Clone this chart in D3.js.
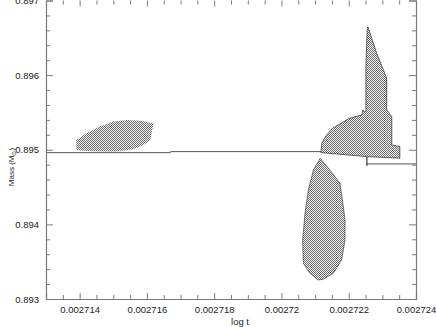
<!DOCTYPE html>
<html>
<head>
  <meta charset="utf-8">
  <title>Mass vs log t</title>
  <script src="https://d3js.org/d3.v7.min.js"></script>
  <style type="text/css">
    body { margin: 0; background: #fff; }
    svg { display: block; font-family: "Liberation Sans", Arial, sans-serif; }
    .axis path, .axis line { stroke: #7a7a7a; }
    .axis text { fill: #222; font-size: 9.5px; }
  </style>
</head>
<body>
<div id="chart"></div>
<script type="text/javascript">
  // tick labels
  const xTicks = [0.002714, 0.002716, 0.002718, 0.00272, 0.002722, 0.002724];
  const xTickLabels = ['0.002714', '0.002716', '0.002718', '0.00272', '0.002722', '0.002724'];
  const yTicks = [0.893, 0.894, 0.895, 0.896, 0.897];
  const yTickLabels = ['0.893', '0.894', '0.895', '0.896', '0.897'];

  // shaded regions, [log t, mass]
  const blobLeft = [
    [0.0027139, 0.894997], [0.0027139, 0.895131], [0.0027142, 0.895221], [0.0027146, 0.895310],
    [0.0027150, 0.895377], [0.0027154, 0.895399], [0.0027158, 0.895390], [0.0027162, 0.895355],
    [0.0027161, 0.895131], [0.0027159, 0.895064], [0.0027156, 0.895007], [0.0027151, 0.894975],
    [0.0027146, 0.894975], [0.0027142, 0.894984]
  ];
  const blobUpper = [
    [0.00272117, 0.894961], [0.0027212, 0.895087], [0.00272134, 0.895198], [0.00272153, 0.895292],
    [0.00272179, 0.895359], [0.00272198, 0.895413], [0.00272219, 0.895444], [0.00272239, 0.895466],
    [0.00272242, 0.895534], [0.00272247, 0.895507], [0.00272251, 0.895511], [0.00272251, 0.896114],
    [0.00272255, 0.896629], [0.00272257, 0.896650], [0.00272283, 0.896294], [0.00272313, 0.895958],
    [0.00272313, 0.895534], [0.00272328, 0.895444], [0.00272328, 0.895064], [0.00272352, 0.895042],
    [0.00272352, 0.894886], [0.00272253, 0.894908]
  ];
  const blobLower = [
    [0.00272115, 0.894886], [0.00272144, 0.894729], [0.00272174, 0.894551], [0.00272184, 0.894237],
    [0.00272189, 0.894059], [0.00272189, 0.893791], [0.00272179, 0.893523], [0.00272154, 0.893344],
    [0.00272124, 0.893264], [0.00272109, 0.893255], [0.00272085, 0.893344], [0.00272065, 0.893479],
    [0.00272063, 0.893791], [0.0027207, 0.894149], [0.0027208, 0.894461], [0.00272095, 0.894729]
  ];

  // track lines
  const trackLeft = [
    [0.002713, 0.894961], [0.0027167, 0.894961], [0.0027167, 0.894975], [0.00272117, 0.894975]
  ];
  const trackRight = [
    [0.00272254, 0.894903], [0.00272254, 0.894783]
  ];
  const trackEnd = [
    [0.00272254, 0.89481], [0.002724, 0.89481]
  ];

  const width = 436, height = 327;
  const x = d3.scaleLinear().domain([0.002713, 0.002724]).range([46, 416]);
  const y = d3.scaleLinear().domain([0.893, 0.897]).range([299, 0.5]);

  const svg = d3.select('#chart').append('svg')
    .attr('width', width)
    .attr('height', height);

  // checker pattern for shaded areas
  const pat = svg.append('defs').append('pattern')
    .attr('id', 'checker')
    .attr('patternUnits', 'userSpaceOnUse')
    .attr('width', 2).attr('height', 2);
  pat.append('rect').attr('width', 2).attr('height', 2).attr('fill', '#f4f4f4')
    .attr('shape-rendering', 'crispEdges');
  pat.append('rect').attr('width', 1).attr('height', 1).attr('fill', '#6a6a6a')
    .attr('shape-rendering', 'crispEdges');
  pat.append('rect').attr('x', 1).attr('y', 1).attr('width', 1).attr('height', 1).attr('fill', '#6a6a6a')
    .attr('shape-rendering', 'crispEdges');

  const line = d3.line().x(d => x(d[0])).y(d => y(d[1]));

  svg.append('path').attr('d', line(blobLeft) + 'Z')
    .attr('fill', 'url(#checker)').attr('stroke', 'none');
  svg.append('path').attr('d', line(blobUpper) + 'Z')
    .attr('fill', 'url(#checker)').attr('stroke', '#111').attr('stroke-width', 0.6);
  svg.append('path').attr('d', line(blobLower) + 'Z')
    .attr('fill', 'url(#checker)').attr('stroke', '#111').attr('stroke-width', 0.5);

  [trackLeft, trackEnd].forEach(t => {
    svg.append('path').attr('d', line(t))
      .attr('fill', 'none').attr('stroke', '#555').attr('stroke-width', 1);
  });
  svg.append('path').attr('d', line(trackRight))
    .attr('fill', 'none').attr('stroke', '#111').attr('stroke-width', 1);

  // axes, ticks pointing inwards
  const xMinor = d3.range(0.0027135, 0.0027241, 0.0000005).filter(v => !xTicks.some(t => Math.abs(t - v) < 1e-10));
  const yMinor = d3.range(0.8932, 0.8970, 0.0002).filter(v => !yTicks.some(t => Math.abs(t - v) < 1e-9));

  const axBottom = svg.append('g').attr('class', 'axis')
    .attr('transform', `translate(0,${y(0.893)})`)
    .call(d3.axisBottom(x).tickValues(xTicks).tickSize(-6).tickPadding(7)
      .tickFormat((d, i) => xTickLabels[i]));
  axBottom.append('g').call(d3.axisBottom(x).tickValues(xMinor).tickSize(-4).tickFormat(''))
    .select('.domain').remove();

  const axTop = svg.append('g').attr('class', 'axis')
    .attr('transform', `translate(0,${y(0.897)})`);
  axTop.call(d3.axisTop(x).tickValues(xTicks).tickSize(-6).tickFormat(''));
  axTop.append('g').call(d3.axisTop(x).tickValues(xMinor).tickSize(-4).tickFormat(''));
  axTop.selectAll('.domain').remove();

  const axLeft = svg.append('g').attr('class', 'axis')
    .attr('transform', `translate(${x(0.002713)},0)`)
    .call(d3.axisLeft(y).tickValues(yTicks).tickSize(-7).tickPadding(7)
      .tickFormat((d, i) => yTickLabels[i]));
  axLeft.append('g').call(d3.axisLeft(y).tickValues(yMinor).tickSize(-4).tickFormat(''))
    .select('.domain').remove();

  const axRight = svg.append('g').attr('class', 'axis')
    .attr('transform', `translate(${x(0.002724)},0)`);
  axRight.call(d3.axisRight(y).tickValues(yTicks).tickSize(-7).tickFormat(''));
  axRight.append('g').call(d3.axisRight(y).tickValues(yMinor).tickSize(-4).tickFormat(''))
    .select('.domain').remove();

  svg.selectAll('.axis .domain').attr('stroke-width', 1.2);

  // axis titles
  svg.append('text')
    .attr('x', 240).attr('y', 325)
    .attr('text-anchor', 'middle')
    .attr('font-size', 9.5).attr('fill', '#222')
    .text('log t');

  const yl = svg.append('text')
    .attr('transform', 'translate(14,167) rotate(-90)')
    .attr('text-anchor', 'middle')
    .attr('font-size', 8).attr('fill', '#222');
  yl.append('tspan').text('Mass (M');
  yl.append('tspan').attr('font-size', 6).attr('dy', 2).text('\u2299');
  yl.append('tspan').attr('dy', -2).text(')');
</script>
</body>
</html>
